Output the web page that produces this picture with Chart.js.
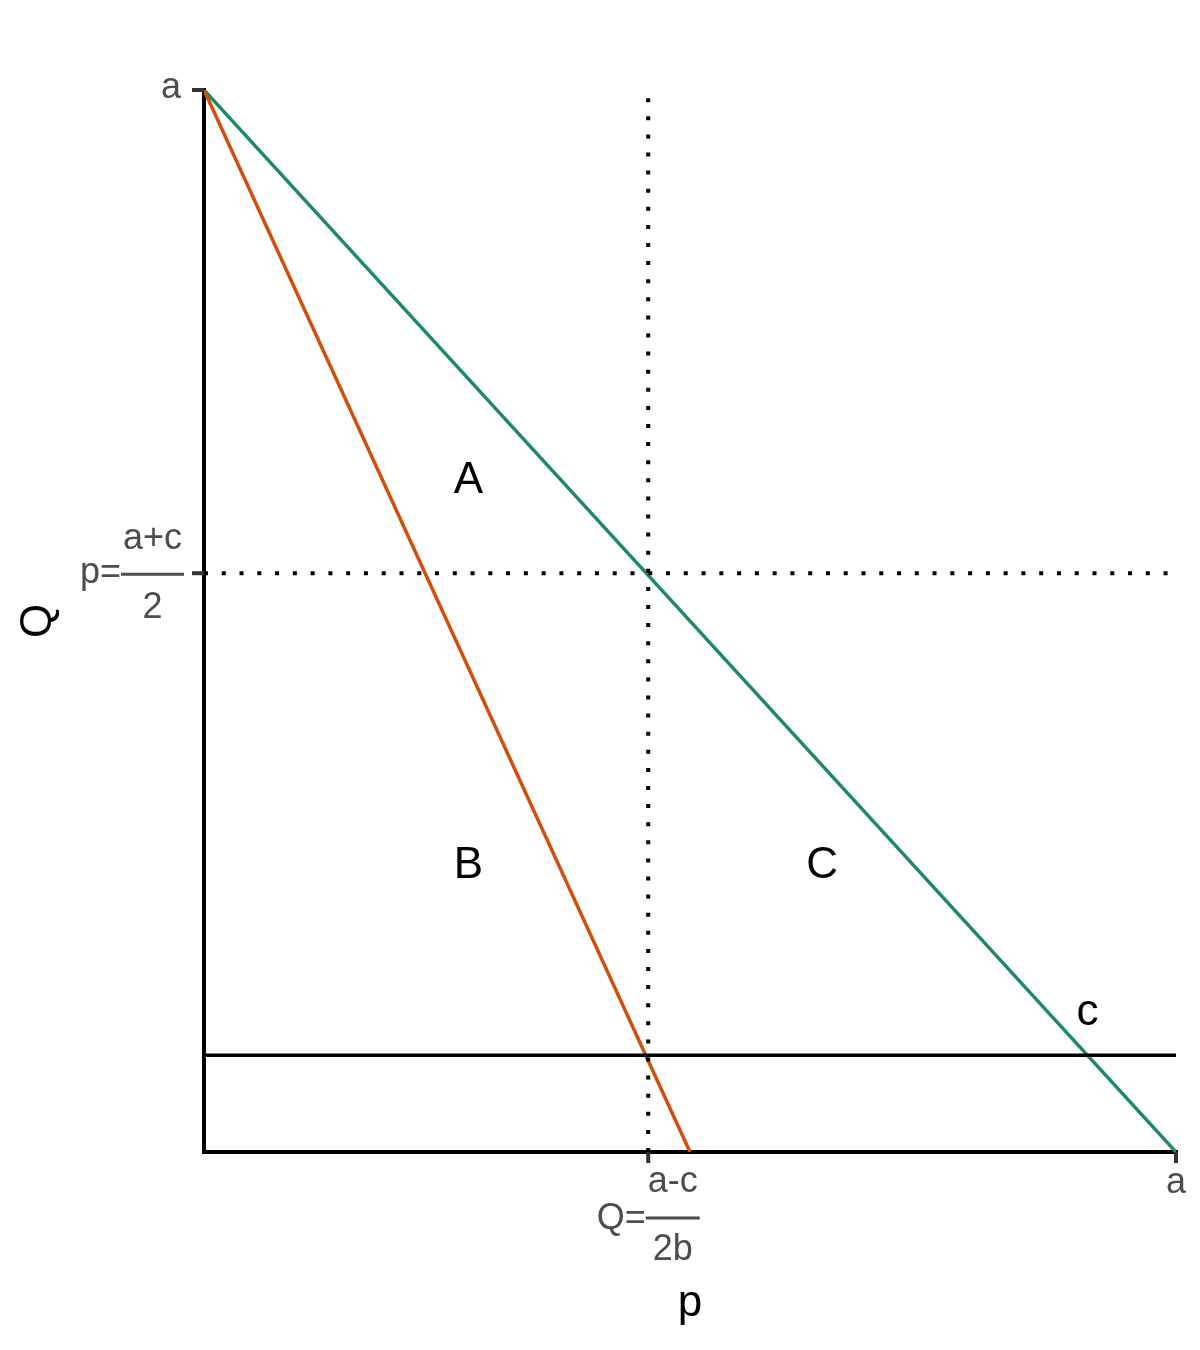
<!DOCTYPE html>
<html>
<head>
<meta charset="utf-8">
<script src="https://cdn.jsdelivr.net/npm/chart.js@4.4.1/dist/chart.umd.min.js"></script>
<style>
  html, body { margin: 0; padding: 0; background: #fff; }
  #wrap { width: 1200px; height: 1350px; }
</style>
</head>
<body>
<div id="wrap"><canvas id="chart" width="1200" height="1350"></canvas></div>
<script>
// ---- values (axes run 0..a, with a = 1) ----
var demandLine = [{ x: 0, y: 1 }, { x: 1, y: 0 }];      // green
var revenueLine = [{ x: 0, y: 1 }, { x: 0.5, y: 0 }];   // orange
var costLevel = 0.091;                                   // c
var qStar = 0.457;                                       // (a-c)/2b
var pStar = 0.545;                                       // (a+c)/2

var xTickVals = [qStar, 1];
var xTickLabels = [{ pre: 'Q=', num: 'a-c', den: '2b' }, 'a'];
var yTickVals = [1, pStar];
var yTickLabels = ['a', { pre: 'p=', num: 'a+c', den: '2' }];

var regionNames = ['A', 'B', 'C', 'c'];
var regionX = [0.272, 0.272, 0.636, 0.909];
var regionY = [0.632, 0.269, 0.269, 0.131];

var FONT = '"Liberation Sans", Arial, sans-serif';
var TICK_GREY = '#4d4d4d';

function seg(x0, y0, x1, y1) { return [{ x: x0, y: y0 }, { x: x1, y: y1 }]; }
function line(data, color, width, extra) {
    var d = { data: data, showLine: true, borderColor: color, borderWidth: width, pointRadius: 0, fill: false, tension: 0 };
    for (var k in extra) d[k] = extra[k];
    return d;
}

// tick marks, fraction labels, axis titles, region letters
var annotate = {
    id: 'annotate',
    afterDatasetsDraw: function(chart) {
        var ctx = chart.ctx, xs = chart.scales.x, ys = chart.scales.y, area = chart.chartArea;
        ctx.save();
        // tick marks
        ctx.strokeStyle = '#333333'; ctx.lineWidth = 4; ctx.lineCap = 'butt';
        yTickVals.forEach(function(v) {
            var py = ys.getPixelForValue(v);
            ctx.beginPath(); ctx.moveTo(area.left - 12, py); ctx.lineTo(area.left, py); ctx.stroke();
        });
        xTickVals.forEach(function(v) {
            var px = xs.getPixelForValue(v);
            ctx.beginPath(); ctx.moveTo(px, area.bottom); ctx.lineTo(px, area.bottom + 11); ctx.stroke();
        });

        ctx.fillStyle = TICK_GREY; ctx.strokeStyle = TICK_GREY;
        ctx.font = '36px ' + FONT; ctx.textBaseline = 'alphabetic';
        // y tick labels, right-aligned against the ticks
        yTickVals.forEach(function(v, i) {
            var py = ys.getPixelForValue(v), lab = yTickLabels[i], right = area.left - 20;
            if (typeof lab === 'string') {
                ctx.textAlign = 'right'; ctx.fillText(lab, right - 3, py + 8);
                return;
            }
            var wf = Math.max(ctx.measureText(lab.num).width, ctx.measureText(lab.den).width) + 4;
            var fx = right - wf;
            ctx.lineWidth = 3;
            ctx.beginPath(); ctx.moveTo(fx, py + 1); ctx.lineTo(right, py + 1); ctx.stroke();
            ctx.textAlign = 'center';
            ctx.fillText(lab.num, fx + wf / 2, py - 24);
            ctx.fillText(lab.den, fx + wf / 2, py + 45);
            ctx.textAlign = 'right';
            ctx.fillText(lab.pre, fx, py + 10);
        });
        // x tick labels, centred under the ticks
        xTickVals.forEach(function(v, i) {
            var px = xs.getPixelForValue(v), lab = xTickLabels[i], top = area.bottom;
            if (typeof lab === 'string') {
                ctx.textAlign = 'center'; ctx.fillText(lab, px, top + 41);
                return;
            }
            var wp = ctx.measureText(lab.pre).width;
            var wf = Math.max(ctx.measureText(lab.num).width, ctx.measureText(lab.den).width) + 4;
            var fx = px - (wp + wf) / 2 + wp;
            ctx.lineWidth = 3;
            ctx.beginPath(); ctx.moveTo(fx, top + 66); ctx.lineTo(fx + wf, top + 66); ctx.stroke();
            ctx.textAlign = 'center';
            ctx.fillText(lab.num, fx + wf / 2, top + 40);
            ctx.fillText(lab.den, fx + wf / 2, top + 108);
            ctx.textAlign = 'right';
            ctx.fillText(lab.pre, fx, top + 77);
        });

        // axis titles
        ctx.fillStyle = '#000';
        ctx.font = '44px ' + FONT;
        ctx.textAlign = 'center'; ctx.textBaseline = 'alphabetic';
        ctx.fillText('p', (area.left + area.right) / 2, 1316);
        ctx.save();
        ctx.translate(51, (area.top + area.bottom) / 2);
        ctx.rotate(-Math.PI / 2);
        ctx.fillText('Q', 0, 0);
        ctx.restore();

        // region letters
        ctx.textBaseline = 'middle';
        regionNames.forEach(function(n, i) {
            ctx.fillText(n, xs.getPixelForValue(regionX[i]), ys.getPixelForValue(regionY[i]));
        });
        ctx.restore();
    }
};

new Chart(document.getElementById('chart'), {
    type: 'scatter',
    data: {
        datasets: [
            line(seg(qStar, 0, qStar, 1), '#000', 4, { borderDash: [4, 14.1], borderCapStyle: 'butt' }),
            line(seg(0, pStar, 1, pStar), '#000', 4, { borderDash: [4, 13.77], borderCapStyle: 'butt' }),
            line(seg(0, costLevel, 1, costLevel), '#000', 3.5, {}),
            line(revenueLine, '#CF500A', 3.5, {}),
            line(demandLine, '#1E8A64', 3.5, {}),
            line(seg(0, 0, 1, 0), '#000', 4, { borderCapStyle: 'square', clip: false }),
            line(seg(0, 0, 0, 1), '#000', 4, { borderCapStyle: 'square', clip: false })
        ]
    },
    options: {
        responsive: false, animation: false, devicePixelRatio: 1,
        layout: { padding: { left: 204, top: 90, right: 24, bottom: 198 } },
        plugins: { legend: { display: false }, tooltip: { enabled: false } },
        scales: {
            x: { type: 'linear', min: 0, max: 1, display: false },
            y: { type: 'linear', min: 0, max: 1, display: false }
        }
    },
    plugins: [annotate]
});
</script>
</body>
</html>
